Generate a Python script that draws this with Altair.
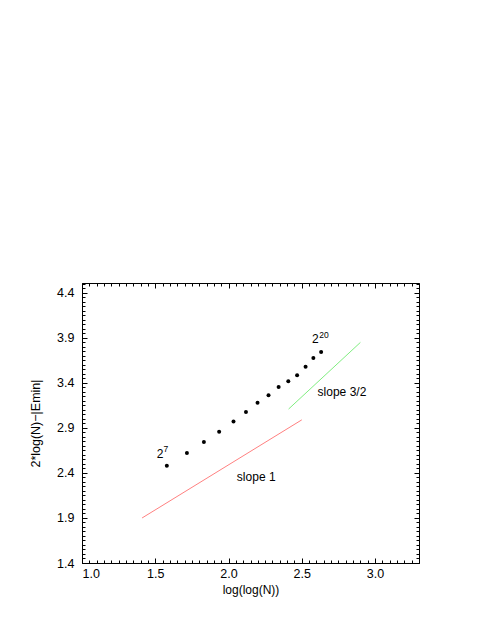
import altair as alt
import pandas as pd

# data points: N = 2^7 ... 2^20
exponents = list(range(7, 21))
x_vals = [1.579, 1.716, 1.832, 1.936, 2.034, 2.119, 2.198, 2.273, 2.342, 2.408, 2.468, 2.526, 2.579, 2.632]
y_vals = [2.481, 2.622, 2.744, 2.859, 2.973, 3.078, 3.181, 3.262, 3.356, 3.418, 3.484, 3.581, 3.678, 3.744]

# reference slope lines
slope1_x = [1.41, 2.50]
slope1_y = [1.90, 2.99]
slope32_x = [2.41, 2.90]
slope32_y = [3.11, 3.85]

# annotations
base_text = ["2", "2", "slope 3/2", "slope 1"]
base_x = [1.511, 2.570, 2.608, 2.057]
base_y = [2.567, 3.844, 3.251, 2.314]
sup_text = ["7", "20"]
sup_x = [1.556, 2.620]
sup_y = [2.629, 3.900]

# axis ticks
x_major = [1.0, 1.5, 2.0, 2.5, 3.0]
y_major = [1.4, 1.9, 2.4, 2.9, 3.4, 3.9, 4.4]
x_minor = [round(1.0 + 0.05 * i, 2) for i in range(47)]
y_minor = [round(1.4 + 0.05 * i, 2) for i in range(63)]

pts = pd.DataFrame({"x": x_vals, "y": y_vals, "k": exponents})
l1 = pd.DataFrame({"x": slope1_x, "y": slope1_y})
l2 = pd.DataFrame({"x": slope32_x, "y": slope32_y})
bt = pd.DataFrame({"x": base_x, "y": base_y, "t": base_text})
st = pd.DataFrame({"x": sup_x, "y": sup_y, "t": sup_text})

xs = alt.Scale(domain=[1.0, 3.3], nice=False, zero=False)
ys = alt.Scale(domain=[1.4, 4.51], nice=False, zero=False)

FONT = "Liberation Sans"


def axis_layer(xorient, yorient, xv, yv, size, labels, xtitle="", ytitle=""):
    xa = alt.Axis(orient=xorient, values=xv, tickSize=size, offset=-size, domain=False,
                  labels=labels, grid=False, title=xtitle, labelPadding=4, titlePadding=5,
                  format=".1f", titleFontSize=12)
    ya = alt.Axis(orient=yorient, values=yv, tickSize=size, offset=-size, domain=False,
                  labels=labels, grid=False, title=ytitle, labelPadding=8, titlePadding=14,
                  format=".1f", titleFontSize=12.5)
    return alt.Chart(pts).mark_point(opacity=0).encode(
        x=alt.X("x:Q", scale=xs, axis=xa),
        y=alt.Y("y:Q", scale=ys, axis=ya),
    )


ax_main = axis_layer("bottom", "left", x_major, y_major, 5, True,
                     "log(log(N))", "2*log(N)−|Emin|")
ax_minor = axis_layer("bottom", "left", x_minor, y_minor, 3, False)
ax_top = axis_layer("top", "right", x_major, y_major, 5, False)
ax_top_minor = axis_layer("top", "right", x_minor, y_minor, 3, False)

points = alt.Chart(pts).mark_circle(size=16, color="black", opacity=1).encode(
    x=alt.X("x:Q", scale=xs, axis=None),
    y=alt.Y("y:Q", scale=ys, axis=None),
)

line1 = alt.Chart(l1).mark_line(color="#ff8080", strokeWidth=1).encode(
    x=alt.X("x:Q", scale=xs, axis=None),
    y=alt.Y("y:Q", scale=ys, axis=None),
)
line2 = alt.Chart(l2).mark_line(color="#80ee80", strokeWidth=1).encode(
    x=alt.X("x:Q", scale=xs, axis=None),
    y=alt.Y("y:Q", scale=ys, axis=None),
)

base = alt.Chart(bt).mark_text(align="left", baseline="alphabetic", fontSize=12,
                               font=FONT, color="black").encode(
    x=alt.X("x:Q", scale=xs, axis=None),
    y=alt.Y("y:Q", scale=ys, axis=None),
    text="t:N",
)
sup = alt.Chart(st).mark_text(align="left", baseline="alphabetic", fontSize=8.5,
                              font=FONT, color="black").encode(
    x=alt.X("x:Q", scale=xs, axis=None),
    y=alt.Y("y:Q", scale=ys, axis=None),
    text="t:N",
)

chart = alt.layer(
    ax_main, ax_minor, ax_top, ax_top_minor, line1, line2, points, base, sup
).resolve_axis(
    x="independent", y="independent"
).properties(
    width=337, height=280,
    padding={"left": 74, "top": 275, "right": 60, "bottom": 60},
    autosize="none",
).configure_view(
    stroke="black", strokeWidth=1
).configure_axis(
    labelFont=FONT, labelFontSize=12.5, labelColor="black",
    titleFont=FONT, titleFontWeight="normal", titleColor="black",
    tickColor="black", tickWidth=1,
)

chart.save("out.html", embed_options={"renderer": "svg", "actions": False})
